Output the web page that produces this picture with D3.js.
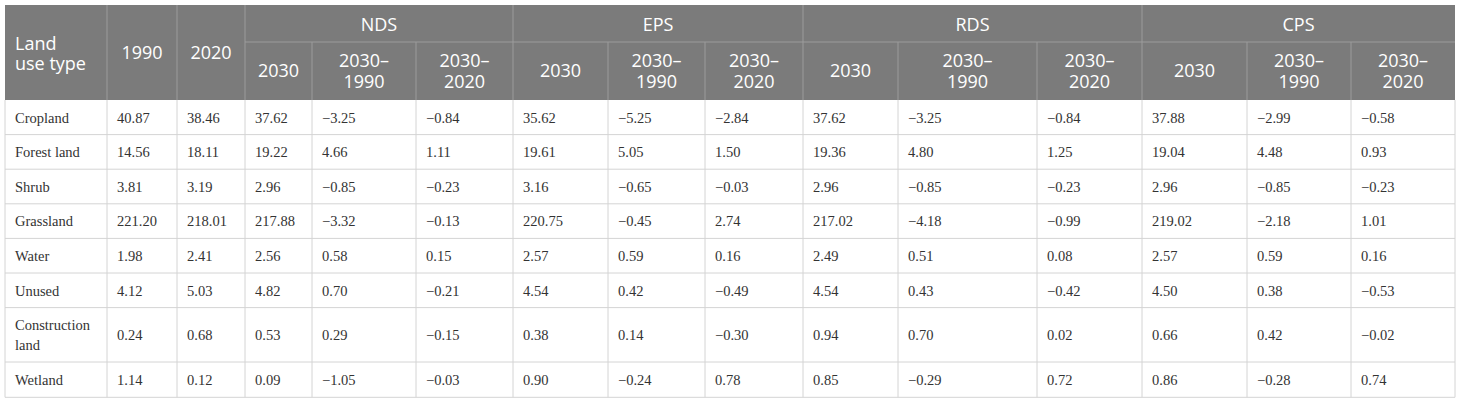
<!DOCTYPE html>
<html>
<head>
<meta charset="utf-8">
<script src="https://cdn.jsdelivr.net/npm/d3@7"></script>
<style>
  body { margin: 0; background: #fff; }
</style>
</head>
<body>
<div id="table"></div>
<script>
// ---- data ----
const landTypes = ["Cropland", "Forest land", "Shrub", "Grassland", "Water", "Unused", "Construction land", "Wetland"];
const area1990 = ["40.87", "14.56", "3.81", "221.20", "1.98", "4.12", "0.24", "1.14"];
const area2020 = ["38.46", "18.11", "3.19", "218.01", "2.41", "5.03", "0.68", "0.12"];

const scenarios = ["NDS", "EPS", "RDS", "CPS"];
const subHeaders = ["2030", "2030–\n1990", "2030–\n2020"];

const nds2030 = ["37.62", "19.22", "2.96", "217.88", "2.56", "4.82", "0.53", "0.09"];
const ndsVs1990 = ["−3.25", "4.66", "−0.85", "−3.32", "0.58", "0.70", "0.29", "−1.05"];
const ndsVs2020 = ["−0.84", "1.11", "−0.23", "−0.13", "0.15", "−0.21", "−0.15", "−0.03"];

const eps2030 = ["35.62", "19.61", "3.16", "220.75", "2.57", "4.54", "0.38", "0.90"];
const epsVs1990 = ["−5.25", "5.05", "−0.65", "−0.45", "0.59", "0.42", "0.14", "−0.24"];
const epsVs2020 = ["−2.84", "1.50", "−0.03", "2.74", "0.16", "−0.49", "−0.30", "0.78"];

const rds2030 = ["37.62", "19.36", "2.96", "217.02", "2.49", "4.54", "0.94", "0.85"];
const rdsVs1990 = ["−3.25", "4.80", "−0.85", "−4.18", "0.51", "0.43", "0.70", "−0.29"];
const rdsVs2020 = ["−0.84", "1.25", "−0.23", "−0.99", "0.08", "−0.42", "0.02", "0.72"];

const cps2030 = ["37.88", "19.04", "2.96", "219.02", "2.57", "4.50", "0.66", "0.86"];
const cpsVs1990 = ["−2.99", "4.48", "−0.85", "−2.18", "0.59", "0.38", "0.42", "−0.28"];
const cpsVs2020 = ["−0.58", "0.93", "−0.23", "1.01", "0.16", "−0.53", "−0.02", "0.74"];

// ---- layout ----
const width = 1460, height = 403;
const colWidths = [102, 70, 68, 67, 104, 97, 95, 97, 98, 95, 139, 105, 105, 104, 104];
const rowHeights = [34.6, 34.6, 34.6, 34.6, 34.6, 34.6, 54.4, 35.3];
const x0 = 5, y0 = 5, headMid = 42, headBottom = 100;

const colEdges = [x0];
colWidths.forEach(w => colEdges.push(colEdges[colEdges.length - 1] + w));
const rowEdges = [headBottom];
rowHeights.forEach(h => rowEdges.push(rowEdges[rowEdges.length - 1] + h));
const tableRight = colEdges[colEdges.length - 1];
const tableBottom = rowEdges[rowEdges.length - 1];

// body columns built from the arrays
const bodyCols = [landTypes, area1990, area2020,
  nds2030, ndsVs1990, ndsVs2020,
  eps2030, epsVs1990, epsVs2020,
  rds2030, rdsVs1990, rdsVs2020,
  cps2030, cpsVs1990, cpsVs2020];

const svg = d3.select("#table").append("svg")
  .attr("width", width)
  .attr("height", height);

// header background
svg.append("rect")
  .attr("x", x0).attr("y", y0)
  .attr("width", tableRight - x0).attr("height", headBottom - y0)
  .attr("fill", "#7b7b7b");

const headLine = "#9c9c9c";
const gridLine = "#d4d4d4";

// header lines
const hdr = svg.append("g").attr("stroke", headLine).attr("stroke-width", 1);
// full-height verticals for first three columns and group separators
[1, 2, 3, 6, 9, 12].forEach(i => {
  hdr.append("line")
    .attr("x1", colEdges[i]).attr("x2", colEdges[i])
    .attr("y1", y0).attr("y2", headBottom);
});
// sub-column verticals (lower header row only)
[4, 5, 7, 8, 10, 11, 13, 14].forEach(i => {
  hdr.append("line")
    .attr("x1", colEdges[i]).attr("x2", colEdges[i])
    .attr("y1", headMid).attr("y2", headBottom);
});
hdr.append("line")
  .attr("x1", colEdges[3]).attr("x2", tableRight)
  .attr("y1", headMid).attr("y2", headMid);

// header text
const headFont = "'Open Sans', 'DejaVu Sans', sans-serif";
const headText = svg.append("g")
  .attr("fill", "#fff")
  .style("font-family", headFont)
  .style("font-size", "18px");

function multiLine(g, text, x, cy, anchor, lh) {
  const lines = text.split("\n");
  const t = g.append("text")
    .attr("x", x)
    .attr("text-anchor", anchor);
  lines.forEach((ln, k) => {
    t.append("tspan")
      .attr("x", x)
      .attr("y", cy + (k - (lines.length - 1) / 2) * lh)
      .attr("dy", "0.36em")
      .text(ln);
  });
}

const headCy = (y0 + headBottom) / 2;
multiLine(headText, "Land\nuse type", colEdges[0] + 10, headCy + 1, "start", 20);
multiLine(headText, "1990", (colEdges[1] + colEdges[2]) / 2, headCy, "middle", 20);
multiLine(headText, "2020", (colEdges[2] + colEdges[3]) / 2, headCy, "middle", 20);

scenarios.forEach((s, si) => {
  const c = 3 + si * 3;
  multiLine(headText, s, (colEdges[c] + colEdges[c + 3]) / 2, (y0 + headMid) / 2 + 1, "middle", 20);
  subHeaders.forEach((sh, k) => {
    multiLine(headText, sh, (colEdges[c + k] + colEdges[c + k + 1]) / 2,
      (headMid + headBottom) / 2, "middle", 21);
  });
});

// body grid
const grid = svg.append("g").attr("stroke", gridLine).attr("stroke-width", 1).attr("fill", "none");
rowEdges.slice(1).forEach(y => {
  grid.append("line").attr("x1", x0).attr("x2", tableRight).attr("y1", y).attr("y2", y);
});
colEdges.forEach(x => {
  grid.append("line").attr("x1", x).attr("x2", x).attr("y1", headBottom).attr("y2", tableBottom);
});

// body text
const body = svg.append("g")
  .attr("fill", "#333")
  .style("font-family", "'Liberation Serif', 'Times New Roman', serif")
  .style("font-size", "14.5px");

const wrapLabel = { "Construction land": "Construction\nland" };

bodyCols.forEach((col, ci) => {
  col.forEach((v, ri) => {
    const cy = (rowEdges[ri] + rowEdges[ri + 1]) / 2;
    const txt = ci === 0 && wrapLabel[v] ? wrapLabel[v] : v;
    multiLine(body, txt, colEdges[ci] + 10, cy, "start", 20);
  });
});
</script>
</body>
</html>
